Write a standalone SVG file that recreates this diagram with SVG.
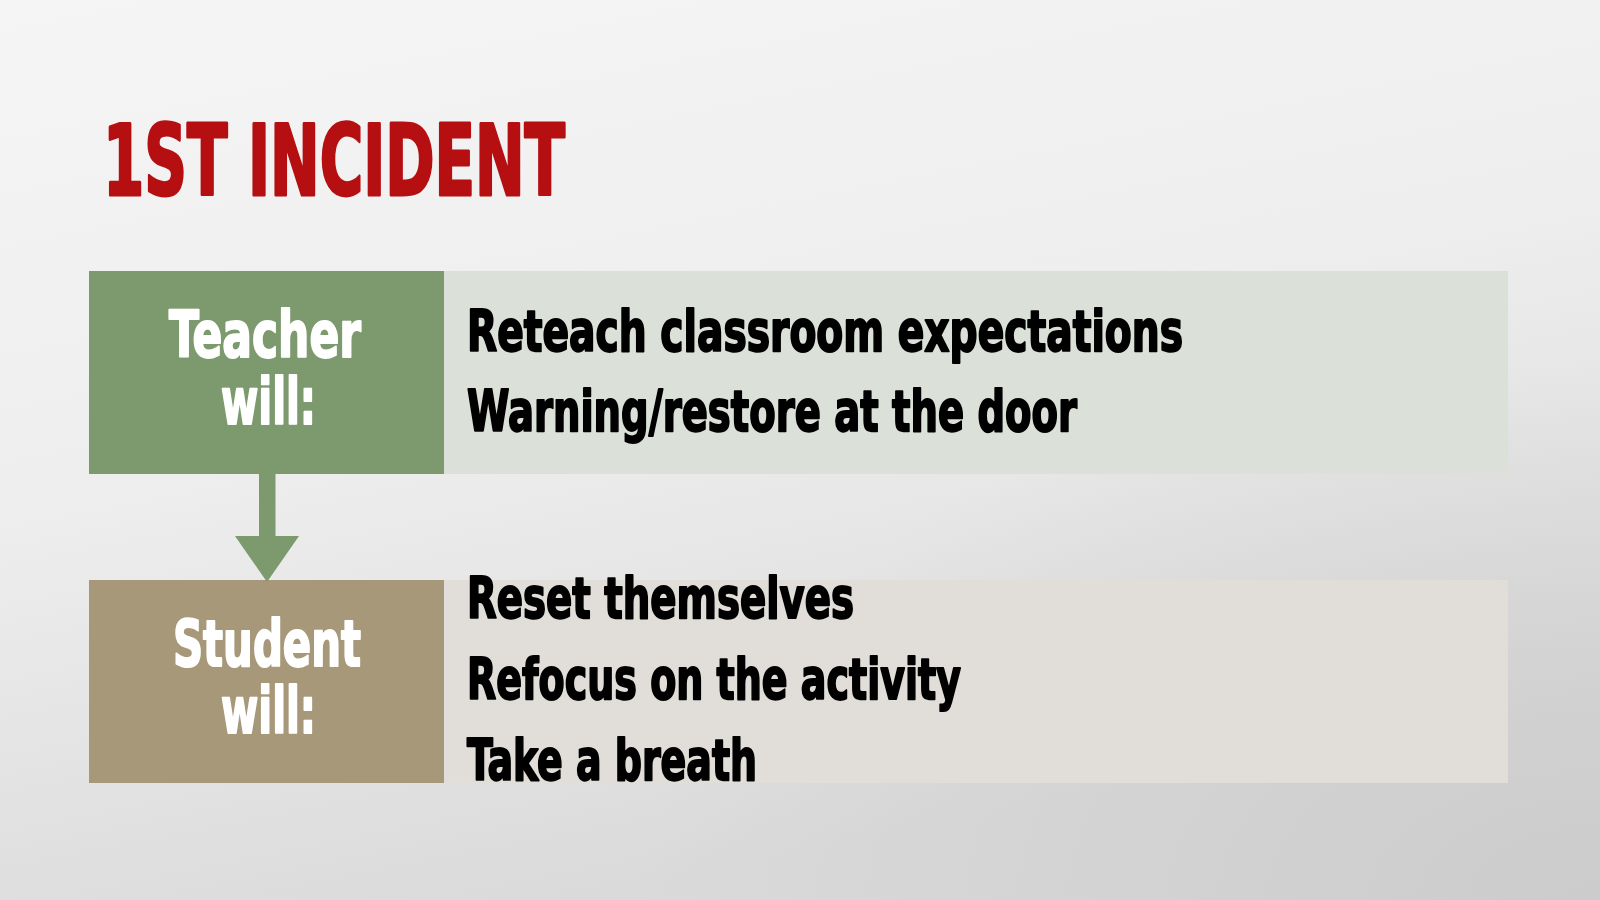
<svg xmlns="http://www.w3.org/2000/svg" width="1600" height="900" viewBox="0 0 1600 900">
  <defs>
    <linearGradient id="bg" x1="0" y1="0" x2="0.35" y2="1">
      <stop offset="0" stop-color="#f5f5f5"/>
      <stop offset="0.5" stop-color="#eeeeee"/>
      <stop offset="1" stop-color="#dadada"/>
    </linearGradient>
    <radialGradient id="corner" cx="1" cy="1" r="0.6">
      <stop offset="0" stop-color="#c8c8c8" stop-opacity="0.8"/>
      <stop offset="1" stop-color="#c8c8c8" stop-opacity="0"/>
    </radialGradient>
  </defs>
  <style>
    .heavy { font-family: "Liberation Sans Narrow", "DejaVu Sans Condensed", "Liberation Sans", sans-serif; font-weight: bold; stroke-linejoin: round; }
    .title { fill: #b50f12; stroke: #b50f12; stroke-width: 3px; font-size: 98px; }
    .label { fill: #ffffff; stroke: #ffffff; stroke-width: 2px; font-size: 64px; }
    .item { fill: #000000; stroke: #000000; stroke-width: 2px; font-size: 57px; }
    .green { fill: #7c9a6e; }
    .tan { fill: #a69878; }
    .lightgreen { fill: #dbe0d8; }
    .lighttan { fill: #e1ded9; }
  </style>

  <rect width="1600" height="900" fill="url(#bg)"/>
  <rect width="1600" height="900" fill="url(#corner)"/>

  <text class="heavy title" x="103" y="195" textLength="462" lengthAdjust="spacingAndGlyphs">1ST INCIDENT</text>

  <g id="teacher-items">
    <rect class="lightgreen" x="444" y="271" width="1064" height="203"/>
    <text class="heavy item" x="467" y="351" textLength="716" lengthAdjust="spacingAndGlyphs">Reteach classroom expectations</text>
    <text class="heavy item" x="467" y="431" textLength="610" lengthAdjust="spacingAndGlyphs">Warning/restore at the door</text>
  </g>

  <g id="teacher">
    <rect class="green" x="89" y="271" width="355" height="203"/>
    <text class="heavy label" x="169" y="357" textLength="192" lengthAdjust="spacingAndGlyphs">Teacher</text>
    <text class="heavy label" x="221" y="424" textLength="95" lengthAdjust="spacingAndGlyphs">will:</text>
  </g>

  <g id="student-items">
    <rect class="lighttan" x="444" y="580" width="1064" height="203"/>
    <text class="heavy item" x="467" y="618" textLength="387" lengthAdjust="spacingAndGlyphs">Reset themselves</text>
    <text class="heavy item" x="467" y="699" textLength="494" lengthAdjust="spacingAndGlyphs">Refocus on the activity</text>
    <text class="heavy item" x="467" y="780" textLength="290" lengthAdjust="spacingAndGlyphs">Take a breath</text>
  </g>

  <g id="student">
    <rect class="tan" x="89" y="580" width="355" height="203"/>
    <text class="heavy label" x="173" y="666" textLength="188" lengthAdjust="spacingAndGlyphs">Student</text>
    <text class="heavy label" x="221" y="733" textLength="95" lengthAdjust="spacingAndGlyphs">will:</text>
  </g>

  <g id="connectors">
    <path class="green" d="M259 474 H275.5 V536 H299 L267 582 L235 536 H259 Z"/>
  </g>
</svg>
